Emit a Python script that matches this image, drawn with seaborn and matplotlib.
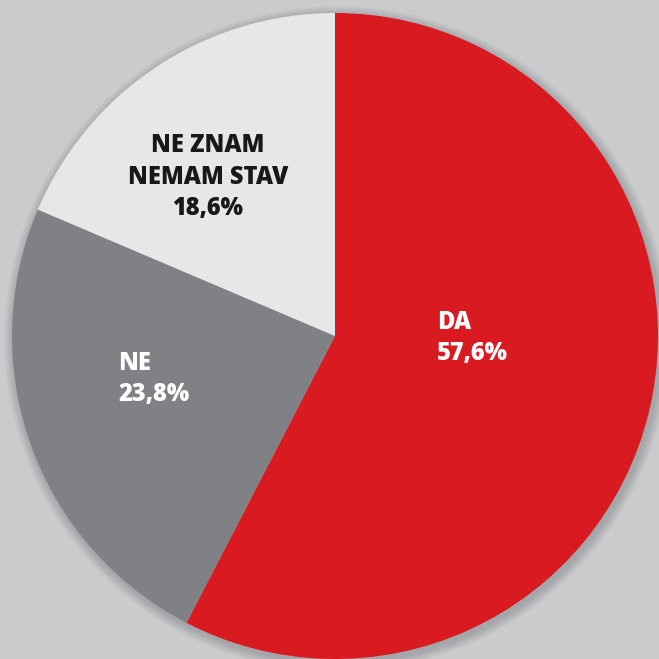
import matplotlib.pyplot as plt
import seaborn as sns
from matplotlib.patches import Circle

# Data
labels = ['DA', 'NE', 'NE ZNAM\nNEMAM STAV']
values = [57.6, 23.8, 18.6]
value_text = ['57,6%', '23,8%', '18,6%']
colors = ['#d91a21', '#808184', '#e6e7e8']
text_colors = ['white', 'white', '#1a1718']

sns.set_style('white')
plt.rcParams['font.family'] = ['Open Sans', 'DejaVu Sans']

fig = plt.figure(figsize=(6.59, 6.59), dpi=100)
fig.patch.set_facecolor('#c9cbcd')
ax = fig.add_axes([0, 0, 1, 1])
ax.set_facecolor('#c9cbcd')

# pixel coordinates, y flipped so that the pie keeps its orientation
cx, cy, r = 335, 659 - 336, 323

# soft shadow around the pie
for i in range(10):
    ax.add_patch(Circle((cx + 2, cy - 3), r + 10 - i, color='#5a5d61',
                        alpha=0.035, lw=0, zorder=0))

wedges, _ = ax.pie(values, colors=colors, startangle=90, counterclock=False,
                   center=(cx, cy), radius=r, frame=True,
                   wedgeprops=dict(linewidth=0))

# labels
fs = 17
ls = 1.32
ax.text(437, 659 - 338, labels[0] + '\n' + value_text[0], color=text_colors[0],
        fontsize=fs, fontweight='heavy', ha='left', va='center', linespacing=ls)
ax.text(118, 659 - 379, labels[1] + '\n' + value_text[1], color=text_colors[1],
        fontsize=fs, fontweight='heavy', ha='left', va='center', linespacing=ls)
ax.text(208, 659 - 177, labels[2] + '\n' + value_text[2], color=text_colors[2],
        fontsize=fs, fontweight='heavy', ha='center', va='center', linespacing=ls)

ax.set_xlim(0, 659)
ax.set_ylim(0, 659)
ax.set_aspect('equal')
ax.axis('off')

fig.savefig('out.png', dpi=100, facecolor=fig.get_facecolor())
